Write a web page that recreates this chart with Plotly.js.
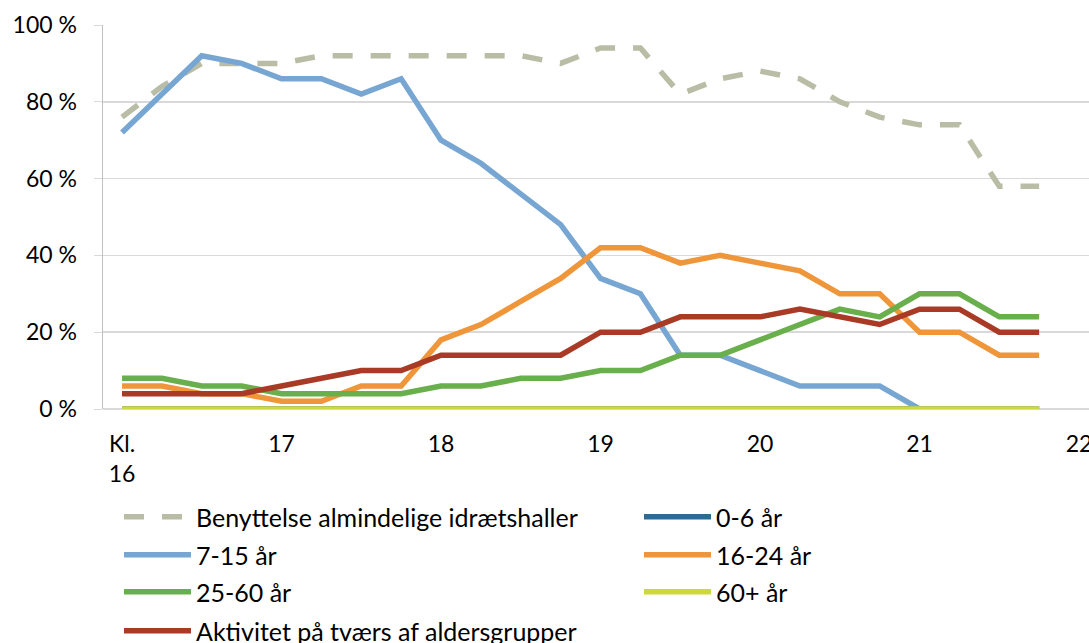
<!DOCTYPE html>
<html>
<head>
<meta charset="utf-8">
<script src="https://cdn.plot.ly/plotly-3.0.1.min.js"></script>
<style>html,body{margin:0;padding:0;background:#fff;}</style>
</head>
<body>
<div id="chart" style="width:1089px;height:643px;"></div>
<script>
// 24 quarter-hour slots from Kl. 16:00 to 21:45
const slots = Array.from({length: 24}, (_, i) => i);
const tickVals = [0, 4, 8, 12, 16, 20, 24];
const tickText = ["Kl.<br>16", "17", "18", "19", "20", "21", "22"];
const yTickVals = [0, 20, 40, 60, 80, 100];
const yTickText = ["0 %", "20 %", "40 %", "60 %", "80 %", "100 %"];

const benyttelse = [76, 84, 90, 90, 90, 92, 92, 92, 92, 92, 92, 90, 94, 94, 82, 86, 88, 86, 80, 76, 74, 74, 58, 58];
const aar0_6     = [0, 0, 0, 0, 0, 0, 0, 0, 0, 0, 0, 0, 0, 0, 0, 0, 0, 0, 0, 0, 0, 0, 0, 0];
const aar7_15    = [72, 82, 92, 90, 86, 86, 82, 86, 70, 64, 56, 48, 34, 30, 14, 14, 10, 6, 6, 6, 0, 0, 0, 0];
const aar16_24   = [6, 6, 4, 4, 2, 2, 6, 6, 18, 22, 28, 34, 42, 42, 38, 40, 38, 36, 30, 30, 20, 20, 14, 14];
const aar25_60   = [8, 8, 6, 6, 4, 4, 4, 4, 6, 6, 8, 8, 10, 10, 14, 14, 18, 22, 26, 24, 30, 30, 24, 24];
const aar60plus  = [0, 0, 0, 0, 0, 0, 0, 0, 0, 0, 0, 0, 0, 0, 0, 0, 0, 0, 0, 0, 0, 0, 0, 0];
const aktivitet  = [4, 4, 4, 4, 6, 8, 10, 10, 14, 14, 14, 14, 20, 20, 24, 24, 24, 26, 24, 22, 26, 26, 20, 20];

const seriesNames = ["Benyttelse almindelige idrætshaller", "0-6 år", "7-15 år", "16-24 år", "25-60 år", "60+ år", "Aktivitet på tværs af aldersgrupper"];
const seriesData = [benyttelse, aar0_6, aar7_15, aar16_24, aar25_60, aar60plus, aktivitet];
const seriesColors = ["#B9BDA5", "#2E6A92", "#78A6D2", "#F0963A", "#69AF4B", "#CDD83D", "#A93A26"];

const legendIds = ["legend", "legend2", "legend3", "legend4", "legend5", "legend6", "legend7"];

const traces = seriesData.map((ys, k) => ({
  x: slots,
  y: ys,
  name: seriesNames[k],
  type: "scatter",
  mode: "lines",
  legend: legendIds[k],
  line: {color: seriesColors[k], width: 5.5, dash: k === 0 ? "20px,18px" : "solid"},
  hoverinfo: "skip"
}));

const font = {family: "Lato, Carlito, Calibri, sans-serif", size: 23, color: "#000"};
const legendFont = {family: "Lato, Carlito, Calibri, sans-serif", size: 25, color: "#000"};

const layout = {
  width: 1089,
  height: 643,
  margin: {l: 103, r: 0, t: 25, b: 234, autoexpand: false},
  paper_bgcolor: "#fff",
  plot_bgcolor: "#fff",
  font: font,
  showlegend: true,
  xaxis: {
    range: [-0.477, 24.25],
    tickmode: "array",
    tickvals: tickVals,
    ticktext: tickText,
    showgrid: false,
    zeroline: false,
    showline: false,
    ticks: "",
    automargin: false,
    ticklabelstandoff: 19,
    ticklabeloverflow: "allow",
    tickfont: font
  },
  yaxis: {
    range: [0, 100],
    tickmode: "array",
    tickvals: yTickVals,
    ticktext: yTickText,
    showgrid: true,
    gridcolor: "#D9D9D9",
    gridwidth: 1.5,
    zeroline: true,
    zerolinecolor: "#D9D9D9",
    zerolinewidth: 1.5,
    showline: true,
    linecolor: "#BFBFC4",
    linewidth: 1.5,
    ticks: "outside",
    ticklen: 8,
    tickcolor: "#D9D9D9",
    automargin: false,
    ticklabelstandoff: 12,
    tickfont: font
  }
};

// legend layout: two columns, four rows (positions in container pixels)
const colX = [119, 639];
const rowY = [517, 555, 592, 631];
legendIds.forEach((id, k) => {
  const col = k % 2, row = Math.floor(k / 2);
  layout[id] = {
    xref: "container",
    yref: "container",
    x: colX[col] / 1089,
    y: 1 - rowY[row] / 643,
    xanchor: "left",
    yanchor: "middle",
    itemwidth: 67,
    font: legendFont,
    bgcolor: "rgba(0,0,0,0)",
    borderwidth: 0
  };
});

Plotly.newPlot("chart", traces, layout, {displayModeBar: false, staticPlot: true});
</script>
</body>
</html>
